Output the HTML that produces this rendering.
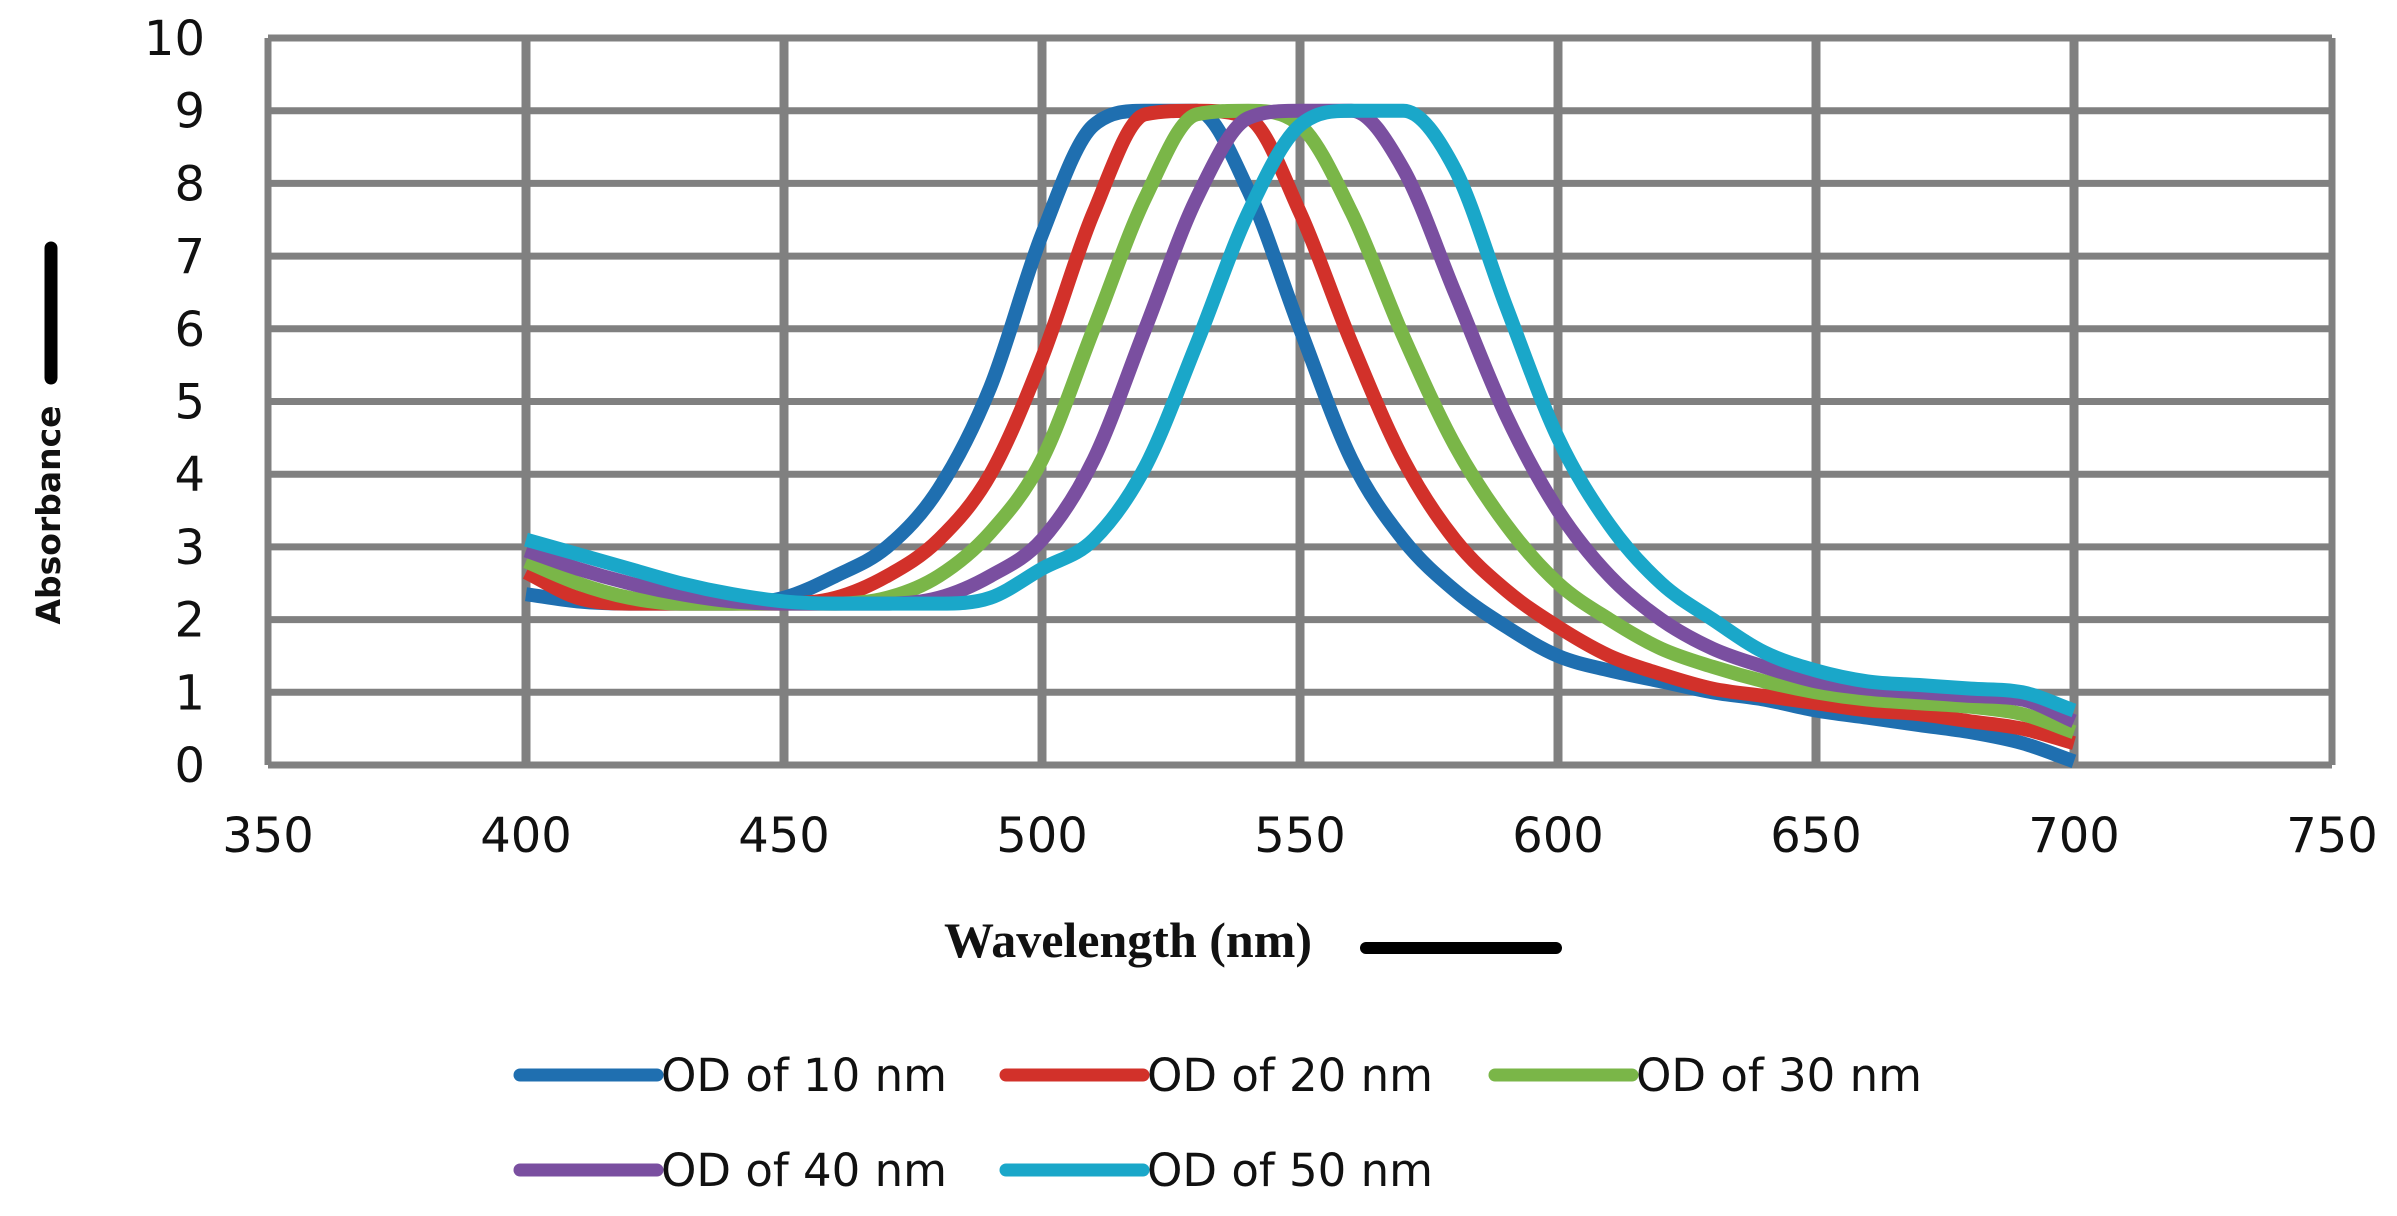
<!DOCTYPE html>
<html><head><meta charset="utf-8"><style>
html,body{margin:0;padding:0;background:#fff;}
svg{display:block;}
</style></head><body>
<svg id="chart" width="2397" height="1216" viewBox="0 0 2397 1216" xmlns="http://www.w3.org/2000/svg">
<g id="grid"></g>
<g id="series"></g>
<g id="ticks" font-family="'DejaVu Sans', sans-serif" font-size="48" fill="#111"></g>
<text x="1128" y="957" text-anchor="middle" font-family="'Liberation Serif', serif" font-weight="bold" font-size="50" fill="#111">Wavelength (nm)</text>
<line x1="1366" y1="948" x2="1556" y2="948" stroke="#000" stroke-width="12" stroke-linecap="round"/>
<text transform="translate(60,515) rotate(-90)" text-anchor="middle" font-family="'DejaVu Sans', sans-serif" font-weight="bold" font-size="33" fill="#111">Absorbance</text>
<line x1="51" y1="248" x2="51" y2="378" stroke="#000" stroke-width="13" stroke-linecap="round"/>
<g id="legend" font-family="'DejaVu Sans', sans-serif" font-size="45" fill="#111"></g>
</svg>
<script>
const wavelengths = [400,410,420,430,440,450,460,470,480,490,500,510,520,530,540,550,560,570,580,590,600,610,620,630,640,650,660,670,680,690,700];
const od10 = [2.35,2.25,2.22,2.22,2.22,2.3,2.6,3.0,3.8,5.2,7.3,8.8,9,9,7.9,6.0,4.2,3.1,2.4,1.9,1.5,1.3,1.15,1.0,0.9,0.75,0.65,0.55,0.45,0.3,0.05];
const od20 = [2.65,2.3,2.22,2.22,2.22,2.22,2.3,2.6,3.1,4.0,5.6,7.6,8.95,9,8.9,7.6,5.8,4.2,3.1,2.4,1.9,1.5,1.25,1.05,0.95,0.85,0.75,0.7,0.6,0.5,0.3];
const od30 = [2.8,2.5,2.3,2.22,2.22,2.22,2.22,2.3,2.6,3.2,4.2,6.0,7.8,8.95,9,8.8,7.6,5.9,4.4,3.3,2.5,2.0,1.6,1.35,1.15,1.0,0.9,0.85,0.8,0.7,0.45];
const od40 = [2.95,2.7,2.5,2.35,2.25,2.22,2.22,2.22,2.3,2.6,3.1,4.2,6.0,7.8,8.9,9,9,8.2,6.5,4.8,3.5,2.6,2.0,1.6,1.35,1.15,1.05,1.0,0.95,0.9,0.6];
const od50 = [3.1,2.9,2.7,2.5,2.35,2.25,2.22,2.22,2.22,2.3,2.7,3.1,4.1,5.8,7.6,8.8,9,9,8.2,6.3,4.5,3.3,2.5,2.0,1.55,1.3,1.15,1.1,1.05,1.0,0.75];
const seriesNames = ["OD of 10 nm","OD of 20 nm","OD of 30 nm","OD of 40 nm","OD of 50 nm"];
const seriesColors = ["#1f6fb0","#d2312a","#7ab648","#7a4fa0","#1aa7c9"];
const xTicks = [350,400,450,500,550,600,650,700,750];
const yTicks = [0,1,2,3,4,5,6,7,8,9,10];

const NS="http://www.w3.org/2000/svg";
const L=268,R=2332,T=38,B=765;
const xs=v=>L+(v-350)/(750-350)*(R-L);
const ys=v=>B-(v-0)/10*(B-T);
function mk(tag,attrs,parent){const e=document.createElementNS(NS,tag);for(const k in attrs)e.setAttribute(k,attrs[k]);parent.appendChild(e);return e;}

const grid=document.getElementById('grid');
yTicks.forEach(t=>{
  const l=mk('line',{x1:L,x2:R,y1:ys(t),y2:ys(t),stroke:'#808080','stroke-width':7},grid);
  
  
});
xTicks.forEach(t=>{
  const l=mk('line',{x1:xs(t),x2:xs(t),y1:T,y2:B,stroke:'#808080','stroke-width':(t===350||t===750)?7:9},grid);
  
  
});

const ticks=document.getElementById('ticks');
yTicks.forEach(t=>{
  const e=mk('text',{x:205,y:ys(t)+17,'text-anchor':'end'},ticks);
  e.textContent=t;
  
  
});
xTicks.forEach(t=>{
  const e=mk('text',{x:xs(t),y:852,'text-anchor':'middle'},ticks);
  e.textContent=t;
  
  
});

// monotone cubic (Fritsch-Carlson) to avoid overshoot
function smooth(pts){
  const n=pts.length, dx=[], m=[], t=[];
  for(let i=0;i<n-1;i++){dx[i]=pts[i+1][0]-pts[i][0];m[i]=(pts[i+1][1]-pts[i][1])/dx[i];}
  t[0]=m[0];t[n-1]=m[n-2];
  for(let i=1;i<n-1;i++){ t[i]=(m[i-1]*m[i]<=0)?0:(m[i-1]+m[i])/2; }
  for(let i=0;i<n-1;i++){
    if(m[i]===0){t[i]=0;t[i+1]=0;continue;}
    const a=t[i]/m[i],b=t[i+1]/m[i],s=a*a+b*b;
    if(s>9){const k=3/Math.sqrt(s);t[i]=k*a*m[i];t[i+1]=k*b*m[i];}
  }
  let d=`M${pts[0][0]},${pts[0][1]}`;
  for(let i=0;i<n-1;i++){
    const h=dx[i]/3;
    d+=` C${pts[i][0]+h},${pts[i][1]+t[i]*h} ${pts[i+1][0]-h},${pts[i+1][1]-t[i+1]*h} ${pts[i+1][0]},${pts[i+1][1]}`;
  }
  return d;
}
const allSeries=[od10,od20,od30,od40,od50];
const sg=document.getElementById('series');
allSeries.forEach((vals,i)=>{
  const pts=wavelengths.map((w,j)=>[xs(w),ys(vals[j])]);
  const p=mk('path',{d:smooth(pts),fill:'none',stroke:seriesColors[i],'stroke-width':14,'stroke-linejoin':'round'},sg);
  
  
});

const lg=document.getElementById('legend');
const pos=[[520,1075],[1006,1075],[1495,1075],[520,1170],[1006,1170]];
seriesNames.forEach((n,i)=>{
  const [x,y]=pos[i];
  const g=mk('g',{},lg);
  
  
  const l=mk('line',{x1:x,x2:x+137,y1:y,y2:y,stroke:seriesColors[i],'stroke-width':13,'stroke-linecap':'round'},g);
  
  
  const t=mk('text',{x:x+141,y:y+16},g);
  t.textContent=n;
  
  
});
</script>
</body></html>
